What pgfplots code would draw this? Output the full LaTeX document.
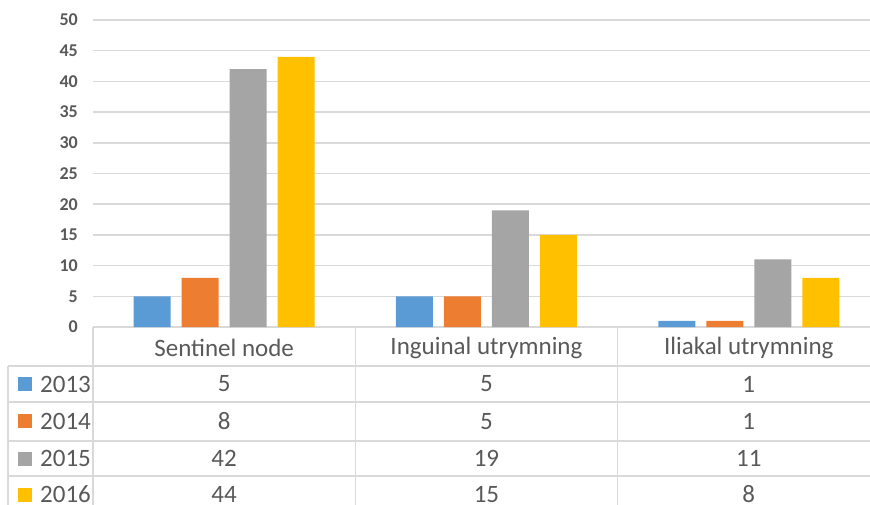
\documentclass[border=0pt]{standalone}
\usepackage{pgfplots}
\pgfplotsset{compat=1.18}
\usepackage{pgfplotstable}
\usepackage{fontspec}
\setmainfont{Carlito}

\definecolor{c2013}{HTML}{5B9BD5}
\definecolor{c2014}{HTML}{ED7D31}
\definecolor{c2015}{HTML}{A5A5A5}
\definecolor{c2016}{HTML}{FFC000}
\definecolor{txt}{HTML}{595959}
\definecolor{rule}{HTML}{D9D9D9}

% counts per procedure and year
\pgfplotstableread{
x a2013 a2014 a2015 a2016
0 5 8 42 44
1 5 5 19 15
2 1 1 11 8
}\counts

\newcommand{\tabfont}{\fontsize{25}{25}\selectfont}

\begin{document}
\begin{tikzpicture}[x=1pt,y=1pt]
\useasboundingbox (0,0) rectangle (870,504);
\clip (0,0) rectangle (870,504);
\begin{axis}[
  at={(93pt,177pt)}, anchor=south west,
  scale only axis, width=777pt, height=307pt,
  xmin=-0.5, xmax=2.462, ymin=0, ymax=50,
  clip=false,
  axis line style={draw=none}, tick style={draw=none},
  ytick={0,5,...,50},
  ymajorgrids, grid style={draw=rule, line width=1.5pt},
  /pgf/number format/assume math mode=true,
  yticklabel style={font=\fontsize{18}{18}\selectfont\bfseries, text=txt, anchor=east, inner sep=0pt, xshift=-15pt},
  xtick={0,1,2},
  xticklabels={Sentinel node, Inguinal utrymning, Iliakal utrymning},
  xticklabel style={font=\tabfont, text=txt, anchor=center, inner sep=0pt, yshift=-20.5pt},
]
% bars
\addplot[ybar, bar width=37pt, bar shift=-72pt, fill=c2013, draw=none] table[x=x, y=a2013] {\counts};
\addplot[ybar, bar width=37pt, bar shift=-24pt, fill=c2014, draw=none] table[x=x, y=a2014] {\counts};
\addplot[ybar, bar width=37pt, bar shift=24pt,  fill=c2015, draw=none] table[x=x, y=a2015] {\counts};
\addplot[ybar, bar width=37pt, bar shift=72pt,  fill=c2016, draw=none] table[x=x, y=a2016] {\counts};

% data table rows
\pgfplotsset{tabrow/.style={draw=none, mark=none, nodes near coords, point meta=explicit,
  every node near coord/.append style={font=\tabfont, text=txt, anchor=center, inner sep=0pt}}}
\addplot[tabrow] table[x=x, y expr=-9.28,  meta=a2013] {\counts};
\addplot[tabrow] table[x=x, y expr=-15.39, meta=a2014] {\counts};
\addplot[tabrow] table[x=x, y expr=-21.42, meta=a2015] {\counts};
\addplot[tabrow] table[x=x, y expr=-27.28, meta=a2016] {\counts};

% table rules
\draw[rule, line width=1.5pt] (axis cs:-0.5,0) -- (axis cs:-0.5,-31);
\draw[rule, line width=1.5pt] (axis cs:0.5,0) -- (axis cs:0.5,-31);
\draw[rule, line width=1.5pt] (axis cs:1.5,0) -- (axis cs:1.5,-31);
\draw[rule, line width=1.5pt] (axis cs:-0.824,-6.35) -- (axis cs:-0.824,-31);
\draw[rule, line width=1.5pt] (axis cs:-0.824,-6.35) -- (axis cs:2.6,-6.35);
\draw[rule, line width=1.5pt] (axis cs:-0.824,-12.21) -- (axis cs:2.6,-12.21);
\draw[rule, line width=1.5pt] (axis cs:-0.824,-18.57) -- (axis cs:2.6,-18.57);
\draw[rule, line width=1.5pt] (axis cs:-0.824,-24.27) -- (axis cs:2.6,-24.27);

% legend keys
\node[fill=c2013, minimum size=14pt, inner sep=0pt] at (axis cs:-0.759,-9.28) {};
\node[fill=c2014, minimum size=14pt, inner sep=0pt] at (axis cs:-0.759,-15.39) {};
\node[fill=c2015, minimum size=14pt, inner sep=0pt] at (axis cs:-0.759,-21.42) {};
\node[fill=c2016, minimum size=14pt, inner sep=0pt] at (axis cs:-0.759,-27.28) {};
\node[font=\tabfont, text=txt, anchor=west, inner sep=0pt] at (axis cs:-0.702,-9.28) {2013};
\node[font=\tabfont, text=txt, anchor=west, inner sep=0pt] at (axis cs:-0.702,-15.39) {2014};
\node[font=\tabfont, text=txt, anchor=west, inner sep=0pt] at (axis cs:-0.702,-21.42) {2015};
\node[font=\tabfont, text=txt, anchor=west, inner sep=0pt] at (axis cs:-0.702,-27.28) {2016};
\end{axis}
\end{tikzpicture}
\end{document}
